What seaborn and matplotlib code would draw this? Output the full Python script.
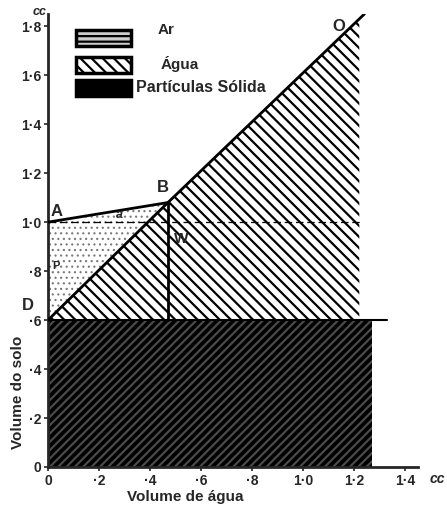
import numpy as np
import pandas as pd
import matplotlib
matplotlib.use("Agg")
import matplotlib.pyplot as plt
import seaborn as sns
from matplotlib.patches import Rectangle

# ---- data ----
water_line_x = [0.0, 0.47, 1.24]          # D -> B -> O
water_line_y = [0.60, 1.08, 1.85]
air_line_x = [0.0, 0.47]                  # A -> B
air_line_y = [1.00, 1.08]
water_fill_x = [0.0, 0.47, 1.22]
water_fill_top = [0.60, 1.08, 1.83]
solid_top = 0.60
solid_right = 1.27
b_x = 0.47
x_ticks = [0, 0.2, 0.4, 0.6, 0.8, 1.0, 1.2, 1.4]
x_tick_labels = ["0", "·2", "·4", "·6", "·8", "1·0", "1·2", "1·4"]
y_ticks = [0, 0.2, 0.4, 0.6, 0.8, 1.0, 1.2, 1.4, 1.6, 1.8]
y_tick_labels = ["0", "·2", "·4", "·6", "·8", "1·0", "1·2", "1·4", "1·6", "1·8"]
legend_labels = ["Ar", "Água", "Partículas Sólida"]

sns.set_style("ticks")
plt.rcParams['font.family'] = ['Liberation Sans', 'DejaVu Sans']
plt.rcParams['hatch.linewidth'] = 1.6

fig = plt.figure(figsize=(4.47, 5.07), dpi=100)
ax = fig.add_axes([48/447, 40/507, 370/447, 453/507])

# solids
ax.add_patch(Rectangle((0, 0), solid_right, solid_top, facecolor="black",
                       edgecolor="#4a4a4a", hatch="////", linewidth=0, zorder=1))
# water
ax.fill_between(water_fill_x, solid_top, water_fill_top, facecolor="white",
                edgecolor="black", hatch="\\\\\\", linewidth=0, zorder=1)
# air
plt.rcParams['hatch.linewidth'] = 0.8
ax.fill_between(air_line_x, [solid_top, water_line_y[1]], air_line_y,
                facecolor="white", edgecolor="#777777", hatch="...", linewidth=0, zorder=1)

df_w = pd.DataFrame({"x": water_line_x, "y": water_line_y})
df_a = pd.DataFrame({"x": air_line_x, "y": air_line_y})
sns.lineplot(data=df_w, x="x", y="y", color="black", linewidth=2.0, ax=ax, zorder=3)
sns.lineplot(data=df_a, x="x", y="y", color="black", linewidth=2.0, ax=ax, zorder=3)
ax.plot([b_x, b_x], [solid_top, water_line_y[1]], color="black", linewidth=2.0, zorder=3)
ax.plot([0, 1.33], [solid_top, solid_top], color="black", linewidth=1.5, zorder=3)
ax.plot([0, 1.23], [1.0, 1.0], color="black", linewidth=0.9, linestyle=(0, (6, 3)), zorder=2)

ax.set_xlim(0, 1.45)
ax.set_ylim(0, 1.85)
ax.set_xticks(x_ticks)
ax.set_xticklabels(x_tick_labels, fontweight="bold", fontsize=10)
ax.set_yticks(y_ticks)
ax.set_yticklabels(y_tick_labels, fontweight="bold", fontsize=10)
ax.tick_params(direction="out", length=3, width=1.2, pad=2)
for s in ["top", "right"]:
    ax.spines[s].set_visible(False)
ax.spines["left"].set_linewidth(2)
ax.spines["bottom"].set_linewidth(2)
ax.set_xlabel("")
ax.set_ylabel("")

fig.text(185/447, 1 - 497/507, "Volume de água", ha="center", va="center",
         fontsize=11, fontweight="bold")
fig.text(18/447, 1 - 392/507, "Volume do solo", ha="center", va="center",
         fontsize=11, fontweight="bold", rotation=90)
fig.text(437/447, 1 - 479/507, "cc", ha="center", va="center",
         fontsize=10, fontweight="bold", style="italic")
fig.text(40/447, 1 - 12/507, "cc", ha="center", va="center",
         fontsize=9, fontweight="bold", style="italic")

# point labels
ax.text(0.035, 1.045, "A", fontsize=12, fontweight="bold", ha="center", va="center")
ax.text(0.45, 1.14, "B", fontsize=12, fontweight="bold", ha="center", va="center")
ax.text(-0.055, 0.66, "D", fontsize=12, fontweight="bold", ha="right", va="center")
ax.text(1.14, 1.80, "O", fontsize=12, fontweight="bold", ha="center", va="center")
ax.text(0.52, 0.93, "W", fontsize=11, fontweight="bold", ha="center", va="center")
ax.text(0.28, 1.03, "a", fontsize=9, fontweight="bold", ha="center", va="center", style="italic")
ax.text(0.03, 0.82, "P", fontsize=8, fontweight="bold", ha="center", va="center")

# legend boxes
plt.rcParams['hatch.linewidth'] = 1.6
lx0, lw, lh = 0.11, 0.215, 0.065
ax.add_patch(Rectangle((lx0, 1.72), lw, lh, facecolor="#cccccc", edgecolor="black",
                       hatch="---", linewidth=2.5, zorder=4))
ax.add_patch(Rectangle((lx0, 1.61), lw, lh, facecolor="white", edgecolor="black",
                       hatch="\\\\\\", linewidth=2.5, zorder=4))
ax.add_patch(Rectangle((lx0, 1.515), lw, lh, facecolor="black", edgecolor="black",
                       linewidth=2.5, zorder=4))
ax.text(0.43, 1.785, legend_labels[0], fontsize=11, fontweight="bold", va="center", ha="left")
ax.text(0.44, 1.645, legend_labels[1], fontsize=11, fontweight="bold", va="center", ha="left")
ax.text(0.345, 1.55, legend_labels[2], fontsize=11.5, fontweight="bold", va="center", ha="left")

fig.savefig("out.png", dpi=100)
